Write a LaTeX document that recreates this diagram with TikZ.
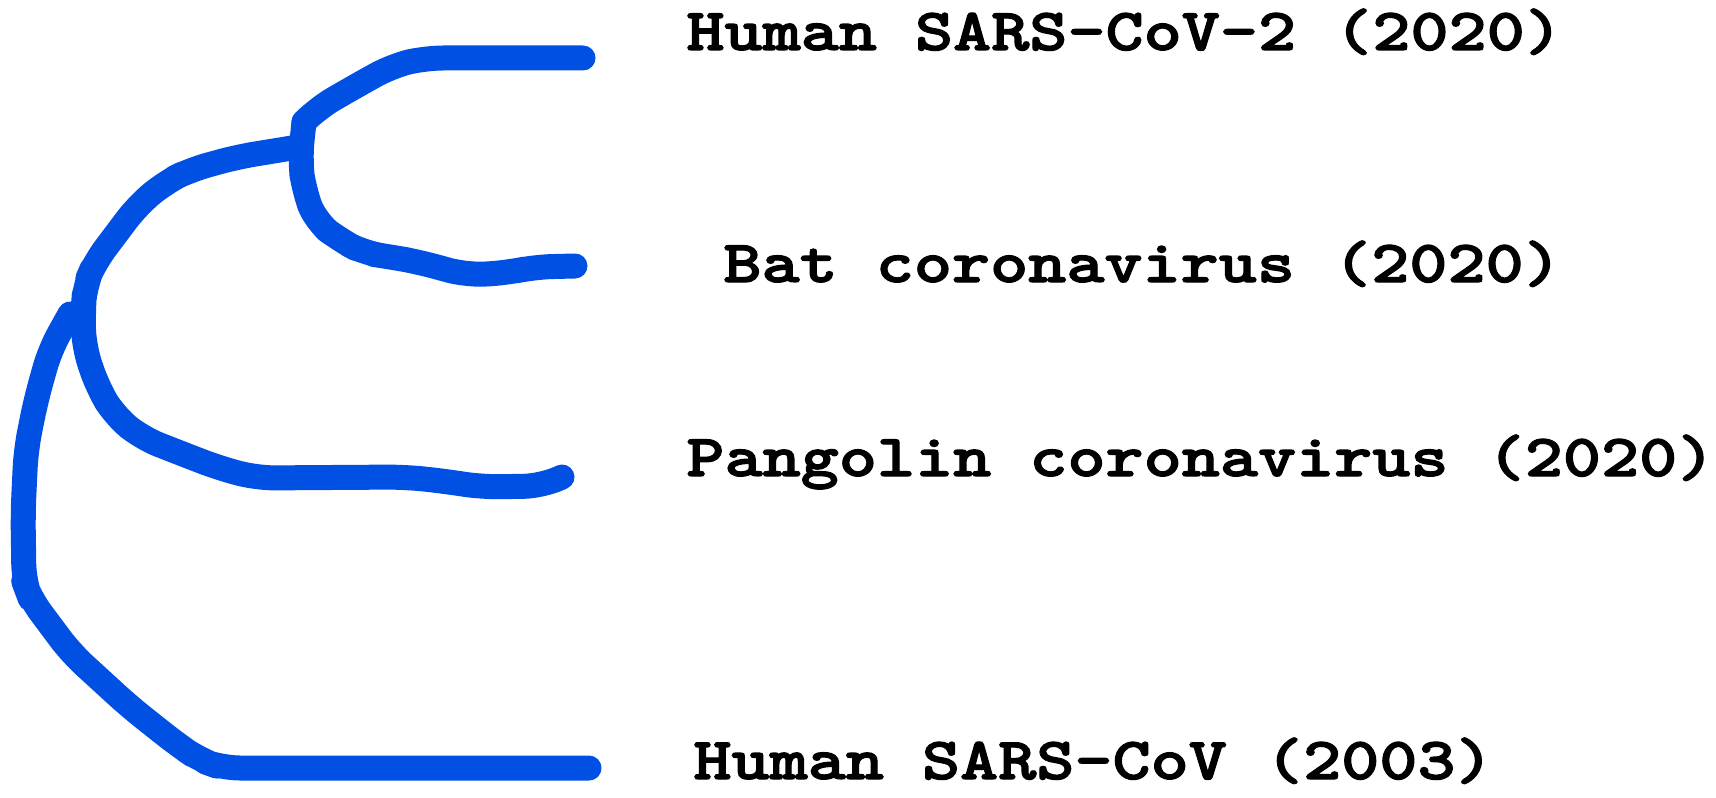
\documentclass[tikz,border=0pt]{standalone}
\usepackage{fontspec}
\newfontfamily\labelfont[Extension=.otf,FakeBold=2,FakeStretch=1.218]{lmmonolt10-bold}
\definecolor{treeblue}{RGB}{0,80,227}
\begin{document}
\begin{tikzpicture}[x=0.5pt,y=-0.5pt,
  branch/.style={draw=treeblue,line width=12.5pt,line cap=round,line join=round,rounded corners=9pt},
  taxon/.style={anchor=base west,inner sep=0pt,font=\labelfont\fontsize{29.8}{36}\selectfont}]
\useasboundingbox (0,0) rectangle (1716,797);

% internal nodes and branch tips
\coordinate (inner) at (304,122);
\coordinate (mid)   at (292,148);
\coordinate (root)  at (70,314);
\coordinate (tipA)  at (583,58);
\coordinate (tipB)  at (575,266);
\coordinate (tipC)  at (562,477);
\coordinate (tipD)  at (589,768);

% taxon labels
\node[taxon] (hum2) at (686,50)  {Human SARS-CoV-2 (2020)};
\node[taxon] (bat)  at (723,282) {Bat coronavirus (2020)};
\node[taxon] (pang) at (686,476) {Pangolin coronavirus (2020)};
\node[taxon] (hum1) at (693,779) {Human SARS-CoV (2003)};

% branches
\draw[branch] (inner) -- (318,108) -- (356,86) -- (392,66) -- (425,58) -- (tipA);
\draw[branch] (inner) -- (300,160) -- (304,190) -- (316,222) -- (340,240)
  -- (364,253) -- (391,257) -- (419,262) -- (466,275) -- (506,273)
  -- (534,267) -- (tipB);
\draw[branch] (mid) -- (237,157) -- (190,170) -- (166,182) -- (138,205)
  -- (95,262) -- (85,285) -- (83,312) -- (84,347) -- (98,388)
  -- (115,416) -- (142,438) -- (175,451) -- (219,468) -- (257,478)
  -- (405,477) -- (443,481) -- (482,487) -- (542,486) -- (tipC);
\draw[branch] (root) -- (50,350) -- (36,400) -- (26,450) -- (23,513)
  -- (24,582) -- (30,598) -- (71,653) -- (130,707) -- (178,745)
  -- (200,760) -- (222,768) -- (tipD);
\end{tikzpicture}
\end{document}
